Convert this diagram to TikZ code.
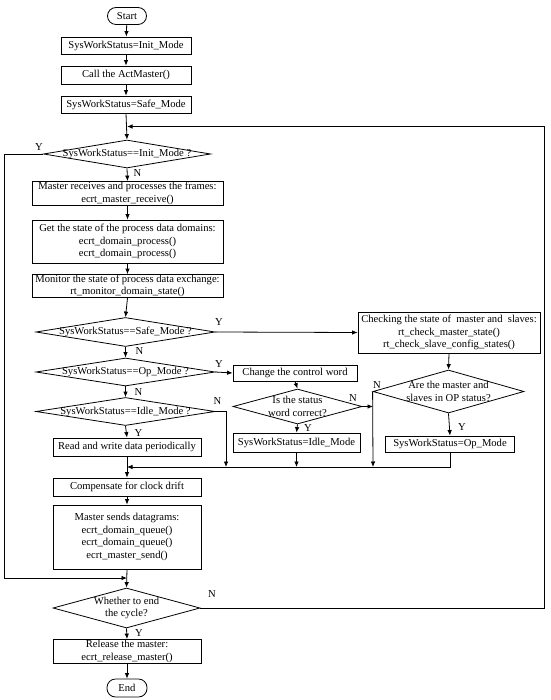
\documentclass[tikz,border=0pt]{standalone}
\usepackage{fontspec}
\setmainfont{Liberation Serif}
\usetikzlibrary{shapes.geometric,arrows.meta}
\begin{document}
\begin{tikzpicture}[x=1pt,y=-1pt,
  font=\fontsize{10.6}{12.6}\selectfont,
  line width=0.8pt,
  box/.style={draw, rectangle, inner sep=0pt, align=center},
  term/.style={draw, rectangle, rounded corners=8.5pt, inner sep=0pt, align=center},
  dia/.style={draw, diamond, inner sep=0pt},
  dtext/.style={align=center, inner sep=0pt},
  arr/.style={-{Latex[length=5.5pt,width=4.5pt]}},
  lbl/.style={inner sep=0pt}
]
\useasboundingbox (0,0) rectangle (550,700);

% main column
\node[term, minimum width=39, minimum height=17] (start) at (127,16) {Start};
\node[box, minimum width=130, minimum height=17] (b1) at (126,45.5) {SysWorkStatus=Init\_Mode};
\node[box, minimum width=130, minimum height=18] (b2) at (126,75) {Call the ActMaster()};
\node[box, minimum width=130, minimum height=17] (b3) at (126,104.5) {SysWorkStatus=Safe\_Mode};
\node[dia, minimum width=167, minimum height=28] (d1) at (127,154) {};
\node[dtext] (d1t) at (d1) {SysWorkStatus==Init\_Mode ?};
\node[box, minimum width=191, minimum height=24] (b4) at (127.5,193.5) {Master receives and processes the frames:\\ecrt\_master\_receive()};
\node[box, minimum width=191, minimum height=43] (b5) at (127.5,241.5) {Get the state of the process data domains:\\ecrt\_domain\_process()\\ecrt\_domain\_process()};
\node[box, minimum width=191, minimum height=23] (b6) at (127.5,286) {Monitor the state of process data exchange:\\rt\_monitor\_domain\_state()};
\node[dia, minimum width=179, minimum height=29] (d2) at (125.5,332) {};
\node[dtext] (d2t) at (d2) {SysWorkStatus==Safe\_Mode ?};
\node[dia, minimum width=179, minimum height=28] (d3) at (125.5,372) {};
\node[dtext] (d3t) at (d3) {SysWorkStatus==Op\_Mode ?};
\node[dia, minimum width=179, minimum height=28] (d4) at (125.5,411.5) {};
\node[dtext] (d4t) at (d4) {SysWorkStatus==Idle\_Mode ?};
\node[box, minimum width=148, minimum height=18] (b7) at (127,447) {Read and write data periodically};
\node[box, minimum width=148, minimum height=18] (b8) at (127,487) {Compensate for clock drift};
\node[box, minimum width=148, minimum height=64] (b9) at (127,537) {Master sends datagrams:\\ecrt\_domain\_queue()\\ecrt\_domain\_queue()\\ecrt\_master\_send()};
\node[dia, minimum width=147, minimum height=40] (d5) at (126.5,608) {};
\node[dtext] (d5t) at (d5) {Whether to end\\the cycle?};
\node[box, minimum width=148, minimum height=24] (b10) at (127,651.5) {Release the master:\\ecrt\_release\_master()};
\node[term, minimum width=40, minimum height=18] (end) at (127,688) {End};

% right part
\node[box, minimum width=182, minimum height=41] (chk) at (449,332.5) {Checking the state of\ \ master and\ \ slaves:\\rt\_check\_master\_state()\\rt\_check\_slave\_config\_states()};
\node[box, minimum width=124, minimum height=16] (chg) at (295,373) {Change the control word};
\node[dia, minimum width=129, minimum height=35] (d7) at (297.5,406.5) {};
\node[dtext] (d7t) at (d7) {Is the status\\word correct?};
\node[box, minimum width=127, minimum height=19] (idle) at (296.5,442.5) {SysWorkStatus=Idle\_Mode};
\node[dia, minimum width=151, minimum height=43] (d6) at (448.5,391.5) {};
\node[dtext] (d6t) at (d6) {Are the master and\\slaves in OP status?};
\node[box, minimum width=129, minimum height=16] (op) at (450,444) {SysWorkStatus=Op\_Mode};

% coordinates
\coordinate (loopin) at (127,126.5);
\coordinate (rt) at (544,608);
\coordinate (lt) at (4.5,154);
\coordinate (leftin) at (127,578);
\coordinate (m1) at (226,467);
\coordinate (m2) at (296.5,467);
\coordinate (m3) at (373,467);
\coordinate (m4) at (450,467);
\coordinate (mm) at (127,467);
\coordinate (vj) at (373,406.5);

% main connectors
\draw[arr] (start) -- (b1);
\draw[arr] (b1) -- (b2);
\draw[arr] (b2) -- (b3);
\draw[arr] (b3.south) -- (d1.north);
\draw[arr] (d1.south) -- (b4.north);
\draw[arr] (b4) -- (b5);
\draw[arr] (b5) -- (b6);
\draw[arr] (b6.south) -- (d2.north);
\draw[arr] (d2.south) -- (d3.north);
\draw[arr] (d3.south) -- (d4.north);
\draw[arr] (d4.south) -- (b7.north);
\draw[arr] (b7.south) -- (b8.north);
\draw[arr] (b8) -- (b9);
\draw[arr] (b9.south) -- (d5.north);
\draw[arr] (d5.south) -- (b10.north);
\draw[arr] (b10) -- (end);

% loops
\draw[arr] (d5.east) -- (rt) |- (loopin);
\draw[arr] (d1.west) -- (lt) |- (leftin);

% right connectors
\draw[arr] (d2.east) -- (chk.west);
\draw[arr] (chk.south) -- (d6.north);
\draw[arr] (d3.east) -- (chg.west);
\draw[arr] (chg.south) -- (d7.north);
\draw[arr] (d7.south) -- (idle.north);
\draw[arr] (d7.east) -- (vj);
\draw[arr] (d6.west) -- (m3);
\draw[arr] (d6.south) -- (op.north);
\draw[arr] (d4.east) -| (m1);
\draw[arr] (idle.south) -- (m2);
\draw[arr] (op.south) -- (m4) -- (mm);

% labels
\node[lbl] (l1) at (39,147) {Y};
\node[lbl] (l2) at (137.5,173) {N};
\node[lbl] (l3) at (219,322) {Y};
\node[lbl] (l4) at (139.5,351) {N};
\node[lbl] (l5) at (219,364) {Y};
\node[lbl] (l6) at (138.5,392) {N};
\node[lbl] (l7) at (217.5,401) {N};
\node[lbl] (l8) at (138.5,433) {Y};
\node[lbl] (l9) at (212,594) {N};
\node[lbl] (l10) at (139,633) {Y};
\node[lbl] (l11) at (353,398) {N};
\node[lbl] (l12) at (308,428) {Y};
\node[lbl] (l13) at (377,385) {N};
\node[lbl] (l14) at (462,427) {Y};
\end{tikzpicture}
\end{document}
